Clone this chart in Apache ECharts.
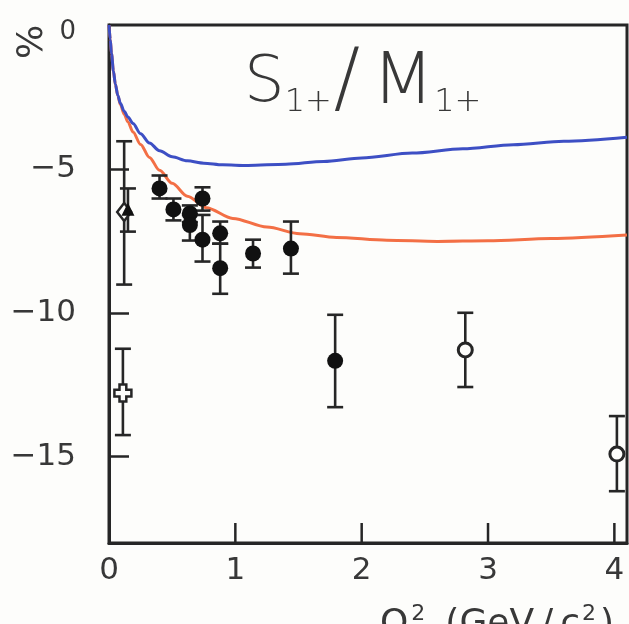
<!DOCTYPE html>
<html>
<head>
<meta charset="utf-8">
<script src="https://cdn.jsdelivr.net/npm/echarts@6/dist/echarts.min.js"></script>
<style>
  html, body { margin: 0; padding: 0; background: #fdfdfb; }
  #chart { width: 629px; height: 624px; }
</style>
</head>
<body>
<div id="chart"></div>
<script>
// Theory curves: S1+/M1+ ratio (%) versus Q^2
const curveBlueQ = [0, 0.01, 0.02, 0.035, 0.05, 0.07, 0.09, 0.12, 0.15, 0.19, 0.25, 0.32, 0.4, 0.5, 0.62, 0.75, 0.9, 1.1, 1.4, 1.7, 2.0, 2.4, 2.8, 3.2, 3.6, 4.1];
const curveBlueV = [0, -0.5, -1.0, -1.6, -2.05, -2.45, -2.72, -3.0, -3.2, -3.42, -3.78, -4.1, -4.37, -4.58, -4.72, -4.8, -4.86, -4.88, -4.84, -4.74, -4.62, -4.45, -4.3, -4.16, -4.04, -3.9];
const curveRedQ = [0, 0.01, 0.02, 0.035, 0.05, 0.07, 0.09, 0.12, 0.15, 0.19, 0.25, 0.32, 0.4, 0.5, 0.62, 0.77, 0.98, 1.25, 1.51, 1.8, 2.2, 2.6, 3.0, 3.5, 4.1];
const curveRedV = [0, -0.5, -1.0, -1.6, -2.05, -2.46, -2.76, -3.1, -3.37, -3.72, -4.15, -4.6, -5.05, -5.5, -5.95, -6.35, -6.72, -7.02, -7.25, -7.38, -7.48, -7.52, -7.5, -7.42, -7.3];

// Measurements: filled circles
const filledQ  = [0.40, 0.51, 0.64, 0.64, 0.74, 0.74, 0.88, 0.88, 1.14, 1.44, 1.79];
const filledV  = [-5.68, -6.41, -6.55, -6.95, -6.03, -7.46, -7.24, -8.45, -7.94, -7.77, -11.67];
const filledHi = [-5.23, -6.03, -6.27, -6.6, -5.64, -6.6, -6.83, -7.6, -7.46, -6.83, -10.07];
const filledLo = [-6.03, -6.79, -6.85, -7.49, -6.45, -8.22, -7.6, -9.34, -8.43, -8.64, -13.28];

// Measurements: open circles
const openQ  = [2.82, 4.02];
const openV  = [-11.29, -14.91];
const openHi = [-10.0, -13.59];
const openLo = [-12.58, -16.2];

// Low-Q^2 points
const diamondQ = [0.12], diamondV = [-6.5], diamondHi = [-4.04], diamondLo = [-9.02];
const triangleQ = [0.15], triangleV = [-6.4], triangleHi = [-5.68], triangleLo = [-7.18];
const crossQ = [0.11], crossV = [-12.79], crossHi = [-11.25], crossLo = [-14.25];

// Axis ticks and tick labels
const xTickMarks = [1, 2, 3, 4];
const xTickLabels = [0, 1, 2, 3, 4];
const yTickMarks = [-15, -10, -5];
const yTickLabels = [-15, -10, -5, 0];

const Y_MIN = -18, Y_MAX = 0, X_MIN = 0, X_MAX = 4.1;

const INK = '#262626';
const TEXT = '#383838';
const PAPER = '#fdfdfb';
const FONT = 'DejaVu Sans';

const zip2 = (a, b) => a.map((v, i) => [v, b[i]]);
const zip3 = (a, b, c) => a.map((v, i) => [v, b[i], c[i]]);

const errorRows = [].concat(
  zip3(filledQ, filledHi, filledLo),
  zip3(openQ, openHi, openLo),
  zip3(diamondQ, diamondHi, diamondLo),
  zip3(triangleQ, triangleHi, triangleLo),
  zip3(crossQ, crossHi, crossLo)
);

function renderErrorBar(params, api) {
  const x = api.value(0);
  const top = api.coord([x, api.value(1)]);
  const bot = api.coord([x, api.value(2)]);
  const hw = 8;
  const st = { stroke: INK, lineWidth: 2.6 };
  return {
    type: 'group',
    children: [
      { type: 'line', shape: { x1: top[0], y1: top[1], x2: bot[0], y2: bot[1] }, style: st },
      { type: 'line', shape: { x1: top[0] - hw, y1: top[1], x2: top[0] + hw, y2: top[1] }, style: st },
      { type: 'line', shape: { x1: bot[0] - hw, y1: bot[1], x2: bot[0] + hw, y2: bot[1] }, style: st }
    ]
  };
}

const yLabel = v => (v < 0 ? '\u2212' + Math.abs(v) : '{z|' + v + '}');
const crossPath = 'path://M3,0 L7,0 L7,3 L10,3 L10,7 L7,7 L7,10 L3,10 L3,7 L0,7 L0,3 L3,3 Z';

const titleMain = { fontFamily: FONT, fontSize: 64, fontWeight: 200, color: TEXT, lineHeight: 70 };
const titleSub = { fontFamily: FONT, fontSize: 32, fontWeight: 200, color: TEXT, lineHeight: 18, verticalAlign: 'bottom' };
const nameMain = { fontFamily: FONT, fontSize: 36, fontWeight: 'normal', color: TEXT, lineHeight: 44 };
const nameSup = { fontFamily: FONT, fontSize: 22, fontWeight: 'normal', color: TEXT, lineHeight: 26, verticalAlign: 'top' };

// Rotated unit label of the vertical axis
const unitLabel = {
  type: 'text', x: 33, y: 42, rotation: Math.PI / 2,
  style: { text: '%', font: '36px "DejaVu Sans"', fill: TEXT, align: 'center', verticalAlign: 'middle' }
};

const chart = echarts.init(document.getElementById('chart'), null, { renderer: 'canvas' });
chart.setOption({
  backgroundColor: PAPER,
  animation: false,
  title: [{
    left: 239, top: 44,
    text: '{m|S}{s|1+}{sl|/}{mm|M}{s|1+}',
    textStyle: {
      rich: {
        m: titleMain,
        mm: Object.assign({}, titleMain, { fontSize: 72 }),
        sl: Object.assign({}, titleMain, { fontSize: 78, lineHeight: 70, padding: [0, 12, 0, 2] }),
        s: titleSub
      }
    }
  }, {
    left: 375, top: 598,
    text: '{q|Q}{p|2}{g|(GeV}{sl|/}{c|c}{p2|2}{r|)}',
    textStyle: {
      rich: {
        q: nameMain,
        p: Object.assign({}, nameSup, { padding: [0, 20, 0, 3] }),
        g: nameMain,
        sl: Object.assign({}, nameMain, { padding: [0, 7, 0, 7] }),
        c: nameMain,
        p2: Object.assign({}, nameSup, { padding: [0, 4, 0, 2] }),
        r: nameMain
      }
    }
  }],
  graphic: [unitLabel],
  grid: {
    left: 109, top: 25, right: 2, bottom: 81,
    show: true, borderColor: INK, borderWidth: 3, backgroundColor: 'transparent'
  },
  xAxis: {
    type: 'value', min: X_MIN, max: X_MAX,
    axisLine: { show: true, onZero: false, lineStyle: { color: INK, width: 3 } },
    axisTick: { show: false },
    axisLabel: { customValues: xTickLabels, margin: 12, color: TEXT, fontFamily: FONT, fontSize: 31 },
    splitLine: { show: false }
  },
  yAxis: {
    type: 'value', min: Y_MIN, max: Y_MAX,
    axisLine: { show: true, onZero: false, lineStyle: { color: INK, width: 3 } },
    axisTick: { show: true, inside: true, length: 20, customValues: yTickMarks, lineStyle: { color: INK, width: 2.5 } },
    axisLabel: {
      customValues: yTickLabels, margin: 33, color: TEXT, fontFamily: FONT, fontSize: 31, formatter: yLabel,
      rich: { z: { fontFamily: FONT, fontSize: 26, color: TEXT, padding: [14, 0, 0, 0] } }
    },
    splitLine: { show: false }
  },
  series: [
    {
      type: 'line', data: zip2(curveRedQ, curveRedV), showSymbol: false,
      smooth: 0.3, smoothMonotone: 'x',
      lineStyle: { color: '#f36f45', width: 3 }, z: 2
    },
    {
      type: 'line', data: zip2(curveBlueQ, curveBlueV), showSymbol: false,
      smooth: 0.3, smoothMonotone: 'x',
      lineStyle: { color: '#3d4fc4', width: 3 }, z: 3
    },
    { type: 'custom', renderItem: renderErrorBar, data: errorRows, z: 4 },
    {
      type: 'scatter', data: zip2(filledQ, filledV), symbol: 'circle', symbolSize: 16,
      itemStyle: { color: '#111111', opacity: 1 }, z: 5
    },
    {
      type: 'scatter', data: zip2(openQ, openV), symbol: 'circle', symbolSize: 14,
      itemStyle: { color: PAPER, borderColor: INK, borderWidth: 3, opacity: 1 }, z: 5
    },
    {
      type: 'scatter', data: zip2(diamondQ, diamondV), symbol: 'diamond', symbolSize: [14, 18],
      itemStyle: { color: PAPER, borderColor: INK, borderWidth: 2.5, opacity: 1 }, z: 5
    },
    {
      type: 'scatter', data: zip2(triangleQ, triangleV), symbol: 'triangle', symbolSize: 13,
      itemStyle: { color: '#111111', opacity: 1 }, z: 6
    },
    {
      type: 'scatter', data: zip2(crossQ, crossV), symbol: crossPath, symbolSize: 17,
      itemStyle: { color: PAPER, borderColor: INK, borderWidth: 2.5, opacity: 1 }, z: 5
    }
  ]
});

// Inward tick marks on the Q^2 axis, placed from the chart's own x scale
try {
  const tickLines = xTickMarks.map(v => {
    const p = chart.convertToPixel({ gridIndex: 0 }, [v, Y_MIN]);
    return {
      type: 'line', z: 50,
      shape: { x1: p[0], y1: p[1], x2: p[0], y2: p[1] - 20 },
      style: { stroke: INK, lineWidth: 2.5 }
    };
  });
  chart.setOption({ graphic: [unitLabel].concat(tickLines) });
} catch (e) {
  console.error(e);
}
</script>
</body>
</html>
